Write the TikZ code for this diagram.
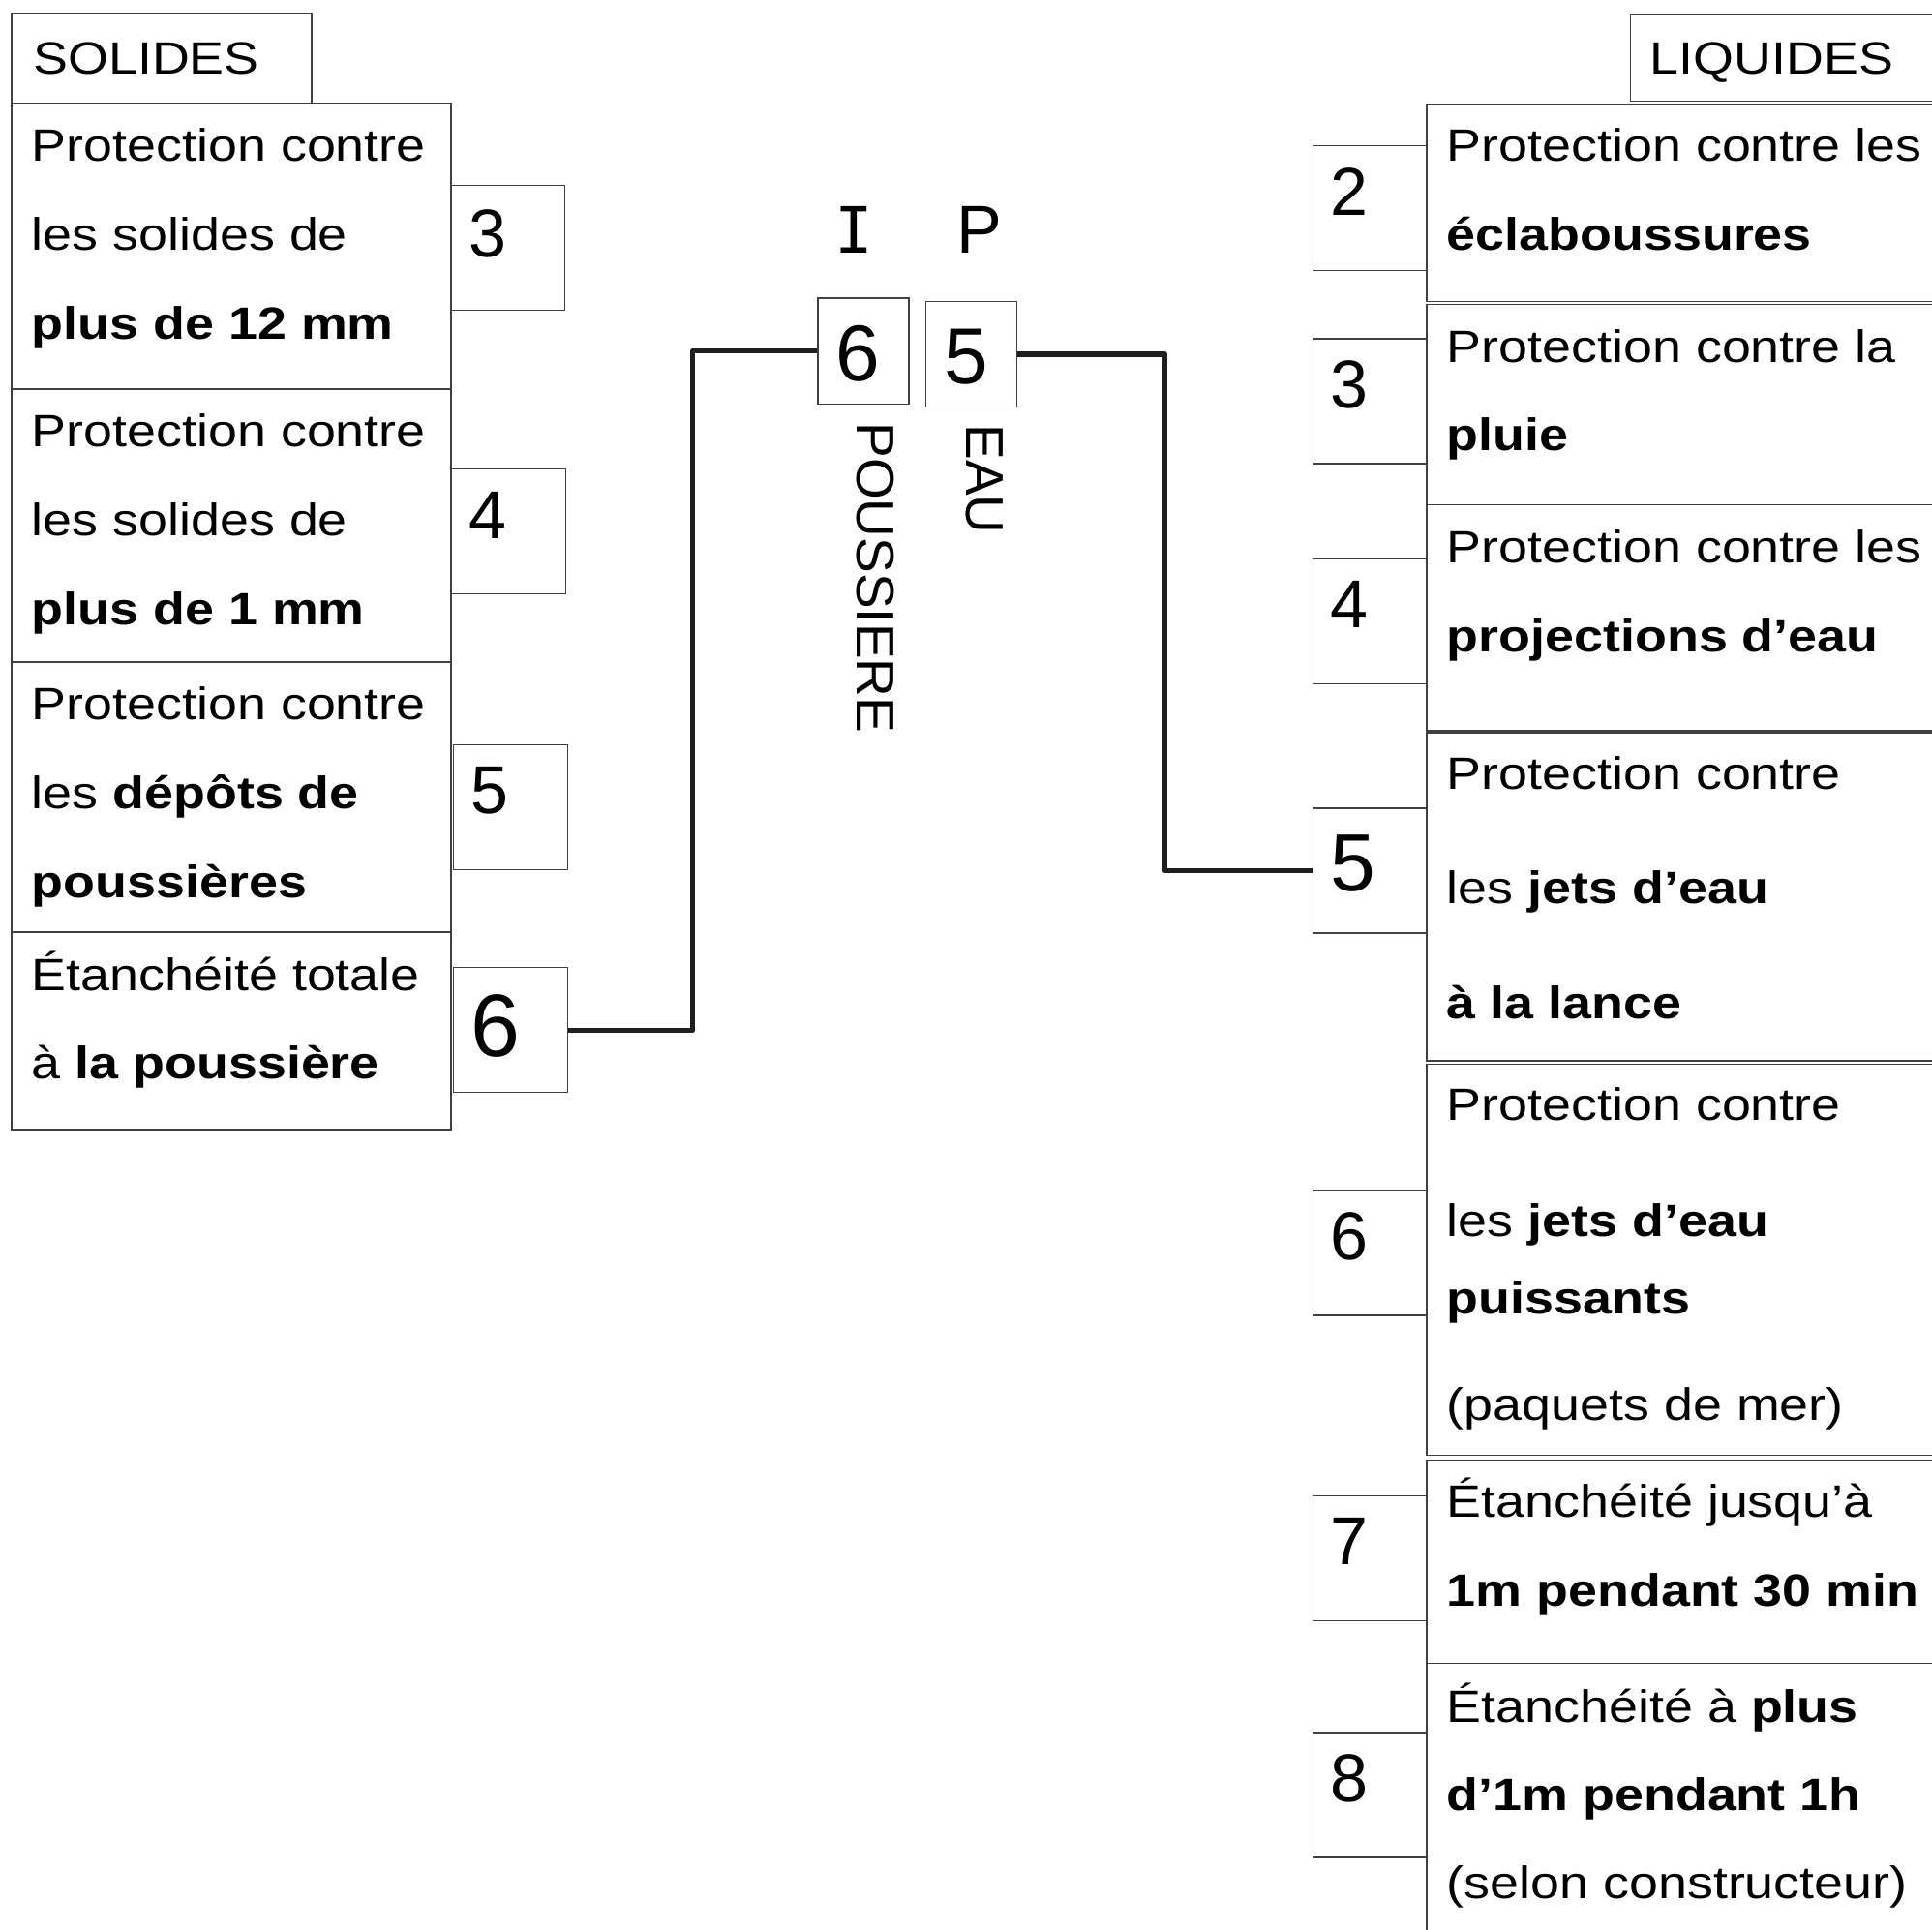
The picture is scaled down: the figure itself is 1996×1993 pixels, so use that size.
\documentclass[tikz,border=0pt]{standalone}
\usepackage{fontspec}
\setmainfont{Liberation Sans}
\newfontfamily\widesans{Liberation Sans}[FakeStretch=1.15]
\newfontfamily\monosans{DejaVu Sans Mono}
\usetikzlibrary{calc}

\tikzset{
  cell/.style={draw=black!75, line width=0.65pt},
  numbox/.style={cell, anchor=north west, inner sep=0pt, minimum width=59pt, minimum height=64.5pt},
  ipbox/.style={cell, anchor=north west, inner sep=0pt, minimum width=47pt, minimum height=54.7pt},
  txt/.style={anchor=base west, inner sep=0pt, font=\widesans\fontsize{23.4}{28}\selectfont},
  digit/.style={anchor=base west, inner sep=0pt, font=\fontsize{35}{40}\selectfont},
  vtext/.style={anchor=base west, inner sep=0pt, rotate=-90, font=\fontsize{27.5}{32}\selectfont},
  link/.style={line width=2.6pt, draw=black!88, line join=round}
}

\begin{document}
\begin{tikzpicture}[x=0.5pt,y=0.5pt,yscale=-1,xscale=1]
	\useasboundingbox (0,0) rectangle (1996,1993);
	\clip (0,0) rectangle (1996,1993);

	%Shape: Rectangle (solides)
	\draw[cell] (12,13.3) rectangle (322,106.7);
	\draw[cell] (12,106.7) rectangle (466,402);
	\draw[cell] (12,402) rectangle (466,684);
	\draw[cell] (12,684) rectangle (466,963);
	\draw[cell] (12,963) rectangle (466,1167);

	%Shape: Rectangle (liquides)
	\draw[cell] (1684.7,15) rectangle (2010,104.3);
	\draw[cell] (1474,107.3) rectangle (2010,311.7);
	\draw[cell] (1474,314.5) rectangle (2010,521.7);
	\draw[cell] (1474,521.7) rectangle (2010,755);
	\draw[cell] (1474,757) rectangle (2010,1096);
	\draw[cell] (1474,1099.3) rectangle (2010,1503.3);
	\draw[cell] (1474,1508.3) rectangle (2010,1718.3);
	\draw[cell] (1474,1718.3) rectangle (2010,2010);

	% Number boxes
	\node[numbox] (l3) at (465,191) {};
	\node[numbox] (l4) at (466,484) {};
	\node[numbox] (l5) at (468,769) {};
	\node[numbox] (l6) at (468,999) {};
	\node[numbox] (r2) at (1355.5,150) {};
	\node[numbox] (r3) at (1355.5,349.3) {};
	\node[numbox] (r4) at (1355.5,576.7) {};
	\node[numbox] (r5) at (1355.5,834.3) {};
	\node[numbox] (r6) at (1355.5,1229.3) {};
	\node[numbox] (r7) at (1355.5,1545) {};
	\node[numbox] (r8) at (1355.5,1789.3) {};
	\node[ipbox] (ip6) at (844.3,307.3) {};
	\node[ipbox] (ip5) at (956,310.7) {};

	%Straight Lines
	\draw[link] (l6.east) -| ($(l6.east)!.5!(ip6.west)$) |- (ip6.west);
	\draw[link] (ip5.east) -| ($(ip5.east)!.5!(r5.west)$) |- (r5.west);

	% Text Node
	\node[txt] (solides) at (34,76) {SOLIDES};
	\node[txt] (liquides) at (1704.5,76) {LIQUIDES};

	% Text Node
	\node[txt] (s1a) at (32.5,166.7) {Protection contre};
	\node[txt] (s1b) at (32.5,258.3) {les solides de};
	\node[txt] (s1c) at (32.5,350) {\textbf{plus de 12 mm}};
	\node[txt] (s2a) at (32.5,461.6) {Protection contre};
	\node[txt] (s2b) at (32.5,553.3) {les solides de};
	\node[txt] (s2c) at (32.5,645.5) {\textbf{plus de 1 mm}};
	\node[txt] (s3a) at (32.5,743.6) {Protection contre};
	\node[txt] (s3b) at (32.5,835.3) {les \textbf{dépôts de}};
	\node[txt] (s3c) at (32.5,927.5) {\textbf{poussières}};
	\node[txt] (s4a) at (32.5,1023) {Étanchéité totale};
	\node[txt] (s4b) at (32.5,1114) {à \textbf{la poussière}};

	% Text Node
	\node[txt] (q1a) at (1494.5,166.5) {Protection contre les};
	\node[txt] (q1b) at (1494.5,258.7) {\textbf{éclaboussures}};
	\node[txt] (q2a) at (1494.5,374.3) {Protection contre la};
	\node[txt] (q2b) at (1494.5,465.8) {\textbf{pluie}};
	\node[txt] (q3a) at (1494.5,581.3) {Protection contre les};
	\node[txt] (q3b) at (1494.5,673.5) {\textbf{projections d’eau}};
	\node[txt] (q4a) at (1494.5,815.2) {Protection contre};
	\node[txt] (q4b) at (1494.5,933.4) {les \textbf{jets d’eau}};
	\node[txt] (q4c) at (1494.5,1052.6) {\textbf{à la lance}};
	\node[txt] (q5a) at (1494.5,1157.3) {Protection contre};
	\node[txt] (q5b) at (1494.5,1277) {les \textbf{jets d’eau}};
	\node[txt] (q5c) at (1494.5,1357.2) {\textbf{puissants}};
	\node[txt] (q5d) at (1494.5,1467) {(paquets de mer)};
	\node[txt] (q6a) at (1494.5,1567) {Étanchéité jusqu’à};
	\node[txt] (q6b) at (1494.5,1659.6) {\textbf{1m pendant 30 min}};
	\node[txt] (q7a) at (1494.5,1779) {Étanchéité à \textbf{plus}};
	\node[txt] (q7b) at (1494.5,1870.4) {\textbf{d’1m pendant 1h}};
	\node[txt] (q7c) at (1494.5,1961) {(selon constructeur)};

	% Digits
	\node[digit] (d-l3) at (484,265) {3};
	\node[digit] (d-l4) at (484,556.7) {4};
	\node[digit] (d-l5) at (486,840) {5};
	\node[digit, font=\fontsize{45.8}{50}\selectfont] (d-l6) at (486,1091.7) {6};
	\node[digit] (d-r2) at (1374,222.4) {2};
	\node[digit] (d-r3) at (1374,421.7) {3};
	\node[digit] (d-r4) at (1374,648.5) {4};
	\node[digit, font=\fontsize{42}{48}\selectfont] (d-r5) at (1374,920) {5};
	\node[digit] (d-r6) at (1374,1301.7) {6};
	\node[digit] (d-r7) at (1374,1616.7) {7};
	\node[digit] (d-r8) at (1374,1861.7) {8};

	% Text Node (IP)
	\node[digit, anchor=base, font=\monosans\fontsize{33}{40}\selectfont] (ltr-i) at (882,261) {I};
	\node[digit, anchor=base] (ltr-p) at (1011.5,261) {P};
	\node[digit, anchor=base, font=\fontsize{41}{48}\selectfont] (d-ip6) at (886,393.3) {6};
	\node[digit, anchor=base, font=\fontsize{41}{48}\selectfont] (d-ip5) at (998.4,396.7) {5};
	\node[vtext] (poussiere) at (885,436) {POUSSIERE};
	\node[vtext] (eau) at (998,438) {EAU};
\end{tikzpicture}
\end{document}
